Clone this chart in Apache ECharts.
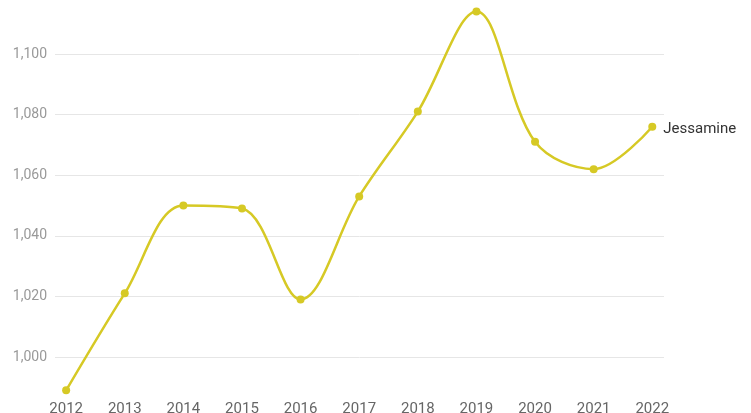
<!DOCTYPE html>
<html><head><meta charset="utf-8">
<script src="https://cdn.jsdelivr.net/npm/echarts@6/dist/echarts.min.js"></script>
<style>html,body{margin:0;padding:0;background:#fff}#c{width:751px;height:413px}</style>
</head><body><div id="c"></div>
<script>
const years = [2012,2013,2014,2015,2016,2017,2018,2019,2020,2021,2022];
const values = [989,1021,1050,1049,1019,1053,1081,1114,1071,1062,1076];
const seriesName = 'Jessamine';
const yTicks = [1000,1020,1040,1060,1080,1100];

const chart = echarts.init(document.getElementById('c'));
chart.setOption({
  animation: false,
  grid: {left: 55, right: 87, top: -6.6, height: 424.2, containLabel: false, outerBoundsMode: 'none'},
  xAxis: {
    type: 'value', min: 2011.81, max: 2022.2,
    axisLine: {show: false}, axisTick: {show: false}, splitLine: {show: false},
    axisLabel: {customValues: years, margin: -16, color: '#666', fontFamily: 'Roboto', fontSize: 15,
      formatter: v => String(v)}
  },
  yAxis: {
    type: 'value', min: 980, max: 1120, interval: 20,
    axisLine: {show: false}, axisTick: {show: false},
    splitLine: {lineStyle: {color: '#e6e6e6', width: 1}},
    axisLabel: {margin: 8, color: '#999', fontFamily: 'Roboto', fontSize: 14,
      formatter: v => yTicks.includes(v) ? v.toLocaleString('en-US') : ''}
  },
  series: [{
    name: seriesName, type: 'line', smooth: 0.35,
    data: years.map((y, i) => [y, values[i]]),
    symbol: 'circle', symbolSize: 8,
    itemStyle: {color: '#d6c925'},
    lineStyle: {color: '#d6c925', width: 2.5},
    endLabel: {show: true, formatter: seriesName, color: '#333', fontFamily: 'Roboto', fontSize: 15, distance: 11, offset: [0, 3]}
  }]
});
</script></body></html>
